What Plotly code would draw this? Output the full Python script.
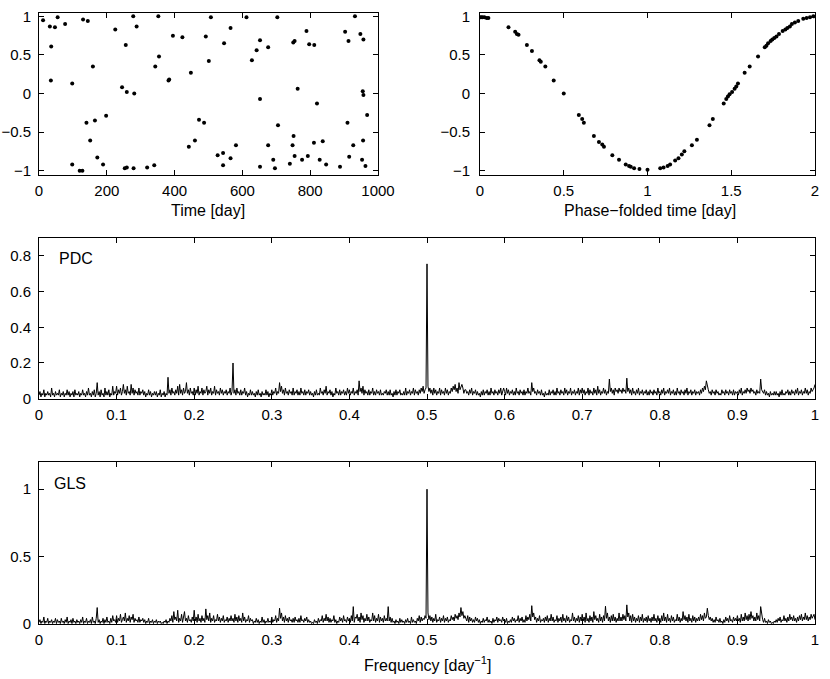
import numpy as np
import plotly.graph_objects as go

# ---- data ----
TIME_DAYS = [12, 32, 47, 55, 77, 36, 35, 98, 130, 144, 225, 278, 288, 256, 159, 245, 259, 281,
             140, 165, 198, 151, 172, 189, 98, 120, 128, 253, 259, 279, 319, 340, 352, 343, 354,
             395, 423, 382, 384, 448, 492, 501, 507, 442, 472, 487, 460,
             612, 703, 932, 565, 546, 642, 652, 676, 628, 750, 754, 789, 797, 812, 903, 913, 948,
             957, 763, 652, 820, 955, 957, 968, 910, 705, 751, 748, 811, 837, 581, 676, 927, 956,
             527, 543, 565, 543, 652, 691, 696, 740, 754, 776, 793, 828, 847, 888, 915, 953, 963]
TIME_FLUX = [0.95, 0.87, 0.86, 0.99, 0.90, 0.61, 0.17, 0.13, 0.96, 0.94, 0.83, 1.0, 0.87, 0.63,
             0.35, 0.08, 0.02, 0.0, -0.38, -0.35, -0.29, -0.61, -0.83, -0.92, -0.92, -1.0, -1.0,
             -0.97, -0.96, -0.97, -0.96, -0.93, 1.0, 0.35, 0.48, 0.75, 0.73, 0.17, 0.18, 0.27,
             0.74, 0.42, 0.99, -0.69, -0.34, -0.38, -0.61,
             0.99, 0.99, 1.0, 0.85, 0.65, 0.56, 0.69, 0.60, 0.43, 0.66, 0.68, 0.81, 0.64, 0.63,
             0.80, 0.68, 0.77, 0.70, 0.06, -0.07, -0.13, 0.03, -0.02, -0.28, -0.38, -0.41, -0.55,
             -0.67, -0.64, -0.62, -0.67, -0.67, -0.67, -0.61, -0.80, -0.77, -0.84, -0.93, -0.95,
             -0.86, -0.97, -0.91, -0.81, -0.86, -0.81, -0.86, -0.92, -0.95, -0.82, -0.86, -0.94]

PHASE = [0.006, 0.014, 0.026, 0.040, 0.050, 0.17, 0.21, 0.22, 0.23, 0.28, 0.31, 0.355, 0.363,
         0.39, 0.44, 0.50, 0.59, 0.61, 0.62, 0.68, 0.71, 0.73, 0.74, 0.79, 0.83, 0.87, 0.89,
         0.90, 0.92, 0.952, 1.0, 1.076, 1.096, 1.12, 1.135, 1.165, 1.185, 1.205, 1.22, 1.265,
         1.295, 1.37, 1.39, 1.455, 1.47, 1.48, 1.49, 1.505, 1.52, 1.53, 1.54, 1.58, 1.61, 1.66,
         1.70, 1.71, 1.72, 1.735, 1.745, 1.757, 1.77, 1.785, 1.807, 1.823, 1.835, 1.85, 1.862,
         1.88, 1.90, 1.93, 1.95, 1.97, 1.99]
PHASE_FLUX = [0.99, 0.99, 0.99, 0.98, 0.98, 0.86, 0.80, 0.77, 0.76, 0.63, 0.55, 0.43, 0.41,
              0.35, 0.17, 0.0, -0.28, -0.33, -0.38, -0.55, -0.63, -0.66, -0.69, -0.80, -0.86,
              -0.92, -0.94, -0.95, -0.97, -0.98, -0.99, -0.97, -0.96, -0.94, -0.92, -0.87, -0.84,
              -0.79, -0.75, -0.67, -0.60, -0.41, -0.33, -0.13, -0.07, -0.04, -0.01, 0.02, 0.06,
              0.09, 0.13, 0.27, 0.35, 0.48, 0.60, 0.62, 0.65, 0.68, 0.70, 0.72, 0.74, 0.77, 0.81,
              0.83, 0.85, 0.87, 0.90, 0.92, 0.94, 0.97, 0.98, 0.99, 1.0]

# periodogram power on an even grid from 0 to 1 day^-1 (one row = 0.025 day^-1)
PDC_POWER = [
    .02, .04, .01, .03, .02, .05, .01, .03, .02, .04, .02, .03, .01, .06, .02, .03, .01, .04, .02, .03,
    .02, .05, .01, .03, .02, .04, .01, .03, .02, .05, .02, .04, .01, .03, .02, .04, .01, .05, .02, .03,
    .02, .04, .01, .03, .02, .05, .02, .03, .01, .04, .02, .06, .02, .03, .01, .04, .02, .05, .01, .03,
    .09, .02, .04, .01, .05, .02, .03, .01, .06, .02, .04, .02, .05, .01, .03, .02, .07, .02, .04, .03,
    .07, .02, .05, .03, .06, .02, .04, .08, .03, .05, .02, .07, .03, .04, .02, .08, .03, .06, .02, .05,
    .03, .04, .02, .06, .02, .04, .03, .05, .02, .04, .01, .03, .02, .05, .02, .04, .01, .03, .02, .04,
    .02, .04, .01, .03, .02, .05, .01, .03, .02, .04, .01, .03, .02, .12, .03, .05, .02, .06, .03, .04,
    .02, .05, .03, .07, .02, .08, .03, .05, .02, .06, .03, .04, .09, .03, .05, .02, .06, .03, .04, .02,
    .06, .02, .05, .03, .07, .02, .04, .03, .06, .02, .05, .03, .04, .07, .02, .05, .03, .06, .02, .04,
    .03, .07, .02, .05, .03, .04, .02, .06, .03, .05, .02, .04, .03, .05, .02, .04, .03, .06, .02, .04,
    .20, .03, .05, .02, .06, .03, .04, .02, .05, .02, .04, .03, .06, .02, .04, .01, .03, .02, .05, .02,
    .04, .02, .03, .01, .04, .02, .05, .02, .03, .01, .04, .02, .03, .02, .05, .02, .04, .01, .03, .02,
    .05, .02, .04, .03, .06, .02, .04, .03, .09, .04, .07, .03, .05, .02, .06, .03, .04, .02, .05, .03,
    .04, .02, .06, .02, .04, .03, .05, .02, .04, .02, .06, .03, .04, .02, .05, .02, .04, .03, .05, .02,
    .04, .02, .03, .01, .04, .02, .05, .02, .03, .02, .06, .03, .04, .02, .05, .03, .07, .02, .04, .03,
    .05, .02, .04, .01, .03, .02, .06, .03, .04, .02, .05, .02, .04, .03, .05, .02, .04, .02, .06, .03,
    .05, .02, .04, .03, .06, .02, .04, .03, .05, .02, .10, .04, .06, .03, .07, .02, .05, .03, .04, .02,
    .05, .02, .04, .03, .06, .02, .04, .02, .05, .03, .04, .02, .05, .02, .03, .02, .04, .03, .05, .02,
    .04, .02, .05, .02, .03, .01, .04, .02, .05, .02, .04, .03, .05, .02, .03, .02, .04, .02, .06, .02,
    .04, .03, .05, .02, .04, .03, .06, .02, .05, .03, .04, .02, .05, .03, .06, .04, .07, .03, .05, .06,
    .755, .07, .04, .06, .03, .05, .02, .06, .03, .05, .02, .04, .03, .06, .02, .05, .03, .04, .02, .06,
    .03, .05, .02, .04, .03, .06, .04, .07, .05, .08, .04, .06, .03, .09, .05, .07, .08, .06, .03, .05,
    .05, .03, .04, .02, .05, .03, .06, .02, .04, .03, .05, .02, .04, .02, .03, .01, .04, .02, .05, .02,
    .04, .03, .05, .02, .04, .02, .06, .03, .04, .02, .05, .03, .04, .02, .05, .03, .06, .02, .04, .06,
    .04, .02, .06, .03, .05, .02, .04, .03, .05, .02, .04, .02, .06, .03, .04, .02, .05, .03, .04, .02,
    .05, .02, .04, .03, .06, .03, .04, .02, .09, .04, .06, .03, .04, .02, .05, .03, .04, .02, .05, .02,
    .03, .01, .04, .02, .03, .02, .05, .02, .04, .03, .05, .02, .04, .02, .06, .03, .04, .02, .05, .03,
    .04, .02, .06, .03, .05, .02, .04, .03, .06, .02, .04, .03, .05, .02, .04, .03, .06, .02, .05, .03,
    .06, .03, .05, .02, .04, .03, .06, .02, .05, .03, .04, .02, .06, .03, .05, .02, .07, .03, .05, .02,
    .04, .03, .06, .03, .05, .02, .04, .03, .11, .04, .06, .03, .05, .02, .06, .04, .05, .03, .06, .04,
    .05, .03, .06, .04, .05, .03, .115, .04, .06, .03, .05, .02, .06, .03, .04, .02, .05, .03, .06, .02,
    .04, .03, .05, .02, .04, .03, .05, .02, .04, .02, .05, .03, .04, .02, .05, .03, .04, .02, .06, .03,
    .04, .02, .05, .03, .06, .02, .04, .03, .05, .03, .06, .02, .04, .03, .05, .02, .04, .02, .06, .03,
    .04, .02, .05, .03, .04, .02, .05, .03, .06, .02, .04, .03, .05, .02, .04, .03, .05, .02, .04, .03,
    .04, .02, .05, .03, .06, .04, .07, .05, .10, .06, .05, .03, .04, .02, .05, .03, .04, .02, .05, .03,
    .04, .02, .03, .02, .05, .03, .04, .02, .05, .03, .04, .02, .05, .03, .04, .02, .05, .02, .04, .03,
    .04, .02, .05, .03, .06, .02, .04, .03, .05, .03, .06, .04, .05, .03, .06, .04, .05, .03, .04, .02,
    .05, .03, .04, .03, .11, .05, .04, .03, .05, .02, .04, .02, .03, .01, .04, .02, .03, .02, .04, .02,
    .04, .02, .03, .01, .04, .02, .05, .02, .03, .02, .04, .03, .05, .02, .04, .02, .05, .03, .04, .02,
    .05, .03, .06, .02, .04, .03, .05, .02, .04, .03, .06, .03, .05, .02, .04, .03, .06, .04, .05, .06,
    .08,
]

GLS_POWER = [
    .01, .03, .00, .02, .01, .05, .00, .02, .01, .04, .00, .02, .01, .03, .00, .02, .01, .04, .00, .03,
    .01, .02, .00, .04, .01, .02, .00, .03, .01, .05, .00, .02, .01, .03, .00, .04, .01, .02, .00, .03,
    .01, .02, .00, .03, .01, .05, .00, .02, .01, .04, .00, .02, .01, .03, .00, .05, .01, .02, .00, .04,
    .12, .01, .03, .00, .02, .01, .04, .00, .03, .01, .05, .01, .02, .00, .04, .01, .06, .02, .03, .01,
    .06, .01, .04, .02, .07, .01, .03, .05, .02, .08, .01, .04, .02, .06, .01, .05, .03, .07, .01, .04,
    .02, .03, .01, .05, .01, .03, .02, .04, .01, .03, .00, .02, .01, .04, .00, .02, .01, .03, .00, .02,
    .01, .03, .00, .02, .01, .02, .00, .01, .00, .02, .01, .03, .00, .02, .01, .04, .02, .06, .01, .09,
    .03, .05, .02, .10, .01, .04, .02, .07, .01, .05, .09, .02, .04, .01, .06, .02, .03, .01, .05, .02,
    .10, .02, .05, .01, .07, .02, .04, .01, .06, .02, .04, .01, .11, .03, .06, .02, .08, .01, .04, .02,
    .06, .01, .03, .02, .07, .02, .05, .01, .04, .02, .06, .01, .03, .02, .05, .01, .04, .02, .06, .02,
    .04, .01, .07, .02, .05, .01, .06, .02, .04, .01, .08, .02, .05, .01, .03, .02, .06, .01, .04, .02,
    .03, .00, .02, .01, .04, .01, .03, .00, .02, .01, .05, .01, .03, .00, .02, .01, .04, .01, .02, .01,
    .05, .01, .03, .02, .06, .01, .04, .02, .115, .04, .08, .02, .05, .01, .06, .02, .04, .01, .05, .02,
    .03, .01, .04, .01, .05, .02, .03, .01, .04, .01, .06, .02, .03, .01, .04, .02, .05, .01, .03, .01,
    .02, .00, .01, .00, .03, .01, .02, .00, .04, .01, .03, .02, .06, .01, .04, .02, .07, .02, .05, .01,
    .04, .01, .03, .02, .06, .01, .03, .00, .02, .01, .05, .02, .04, .01, .06, .02, .03, .01, .05, .02,
    .04, .01, .06, .02, .127, .01, .05, .04, .07, .02, .05, .01, .08, .03, .06, .01, .04, .02, .07, .02,
    .05, .01, .03, .02, .08, .02, .06, .01, .04, .02, .07, .01, .05, .02, .04, .01, .06, .02, .04, .02,
    .127, .02, .05, .01, .04, .01, .02, .00, .03, .01, .02, .00, .04, .01, .03, .01, .02, .00, .03, .01,
    .04, .01, .02, .00, .05, .01, .03, .01, .02, .00, .04, .02, .06, .01, .05, .02, .04, .03, .06, .04,
    1.00, .08, .03, .06, .02, .05, .01, .04, .02, .07, .01, .03, .02, .05, .01, .04, .02, .06, .01, .04,
    .02, .05, .01, .03, .02, .06, .03, .05, .02, .07, .04, .06, .03, .08, .05, .12, .06, .09, .04, .06,
    .04, .02, .06, .01, .05, .02, .04, .01, .03, .01, .05, .02, .04, .01, .03, .00, .02, .01, .04, .01,
    .03, .02, .05, .01, .03, .01, .02, .00, .04, .01, .03, .02, .05, .01, .04, .02, .03, .01, .05, .02,
    .03, .01, .04, .00, .02, .01, .03, .01, .05, .02, .04, .01, .03, .02, .06, .01, .04, .02, .05, .01,
    .03, .01, .06, .02, .05, .03, .07, .02, .134, .05, .08, .03, .05, .01, .04, .02, .06, .01, .03, .02,
    .04, .01, .05, .02, .06, .01, .04, .02, .07, .02, .05, .01, .03, .02, .06, .01, .04, .02, .05, .01,
    .07, .02, .04, .01, .06, .02, .05, .01, .03, .02, .08, .02, .05, .01, .04, .02, .06, .01, .05, .02,
    .07, .02, .05, .01, .08, .02, .04, .01, .06, .02, .05, .01, .09, .03, .06, .02, .04, .01, .07, .02,
    .05, .01, .06, .02, .13, .04, .08, .02, .05, .01, .06, .02, .07, .02, .05, .01, .04, .02, .08, .02,
    .05, .02, .07, .03, .06, .02, .14, .05, .08, .02, .06, .01, .07, .02, .05, .01, .04, .02, .06, .01,
    .05, .02, .07, .01, .04, .02, .05, .01, .06, .02, .04, .01, .05, .02, .07, .02, .04, .01, .06, .02,
    .04, .01, .06, .02, .08, .02, .05, .01, .07, .02, .04, .01, .06, .02, .05, .01, .03, .02, .07, .02,
    .05, .01, .04, .02, .09, .03, .06, .02, .05, .01, .07, .02, .04, .01, .06, .02, .05, .01, .04, .02,
    .05, .02, .07, .03, .06, .02, .08, .04, .05, .115, .06, .03, .05, .02, .04, .01, .03, .01, .05, .02,
    .03, .01, .04, .01, .02, .00, .03, .01, .05, .02, .04, .01, .06, .02, .03, .01, .05, .02, .04, .02,
    .06, .02, .04, .01, .07, .02, .05, .02, .08, .03, .06, .02, .07, .03, .09, .04, .06, .02, .05, .02,
    .08, .03, .06, .02, .127, .05, .03, .01, .04, .01, .02, .00, .03, .01, .02, .00, .01, .00, .02, .01,
    .03, .01, .04, .02, .05, .01, .03, .02, .06, .02, .04, .01, .05, .02, .07, .03, .05, .02, .06, .02,
    .04, .01, .05, .02, .06, .03, .07, .02, .05, .03, .08, .03, .06, .02, .05, .03, .07, .04, .06, .07,
    .03,
]

FREQ_PDC = np.linspace(0, 1, len(PDC_POWER))
FREQ_GLS = np.linspace(0, 1, len(GLS_POWER))

W, H = 830, 679
FONT = "Liberation Sans, Arial, Helvetica, sans-serif"
TICK_SIZE = 15
LABEL_SIZE = 16


def px_x(a, b):
    return [a / W, b / W]


def px_y(top, bottom):
    return [1 - bottom / H, 1 - top / H]


def axis_style(**kw):
    base = dict(showline=True, linecolor="black", linewidth=1, mirror="ticks",
                ticks="inside", ticklen=5, tickcolor="black", tickwidth=1,
                showgrid=False, zeroline=False, automargin=False,
                tickfont=dict(family=FONT, size=TICK_SIZE, color="black"))
    base.update(kw)
    return base


def label(text, x, y, size=LABEL_SIZE, xanchor="center"):
    return dict(text=text, x=x / W, y=1 - y / H, xref="paper", yref="paper",
                xanchor=xanchor, yanchor="middle", showarrow=False,
                font=dict(family=FONT, size=size, color="black"))


fig = go.Figure()

fig.add_trace(go.Scatter(x=TIME_DAYS, y=TIME_FLUX, mode="markers",
                         marker=dict(color="black", size=4), xaxis="x", yaxis="y"))
fig.add_trace(go.Scatter(x=PHASE, y=PHASE_FLUX, mode="markers",
                         marker=dict(color="black", size=4), xaxis="x2", yaxis="y2"))
fig.add_trace(go.Scatter(x=FREQ_PDC, y=PDC_POWER, mode="lines",
                         line=dict(color="black", width=1), xaxis="x3", yaxis="y3"))
fig.add_trace(go.Scatter(x=FREQ_GLS, y=GLS_POWER, mode="lines",
                         line=dict(color="black", width=1), xaxis="x4", yaxis="y4"))

fig.update_layout(
    width=W, height=H, showlegend=False,
    paper_bgcolor="white", plot_bgcolor="white",
    margin=dict(l=0, r=0, t=0, b=0),
    font=dict(family=FONT, size=TICK_SIZE, color="black"),
    xaxis=axis_style(domain=px_x(39, 378), range=[0, 1000], dtick=200, anchor="y",
                     ticklabelstandoff=2),
    yaxis=axis_style(domain=px_y(12.5, 174.5), range=[-1.05, 1.05], dtick=0.5, anchor="x",
                     ticklabelstandoff=4),
    xaxis2=axis_style(domain=px_x(480, 815), range=[0, 2], dtick=0.5, anchor="y2",
                      ticklabelstandoff=2),
    yaxis2=axis_style(domain=px_y(12.5, 174.5), range=[-1.05, 1.05], dtick=0.5, anchor="x2",
                      ticklabelstandoff=6),
    xaxis3=axis_style(domain=px_x(39, 815), range=[0, 1], dtick=0.1, anchor="y3",
                      ticklabelstandoff=2),
    yaxis3=axis_style(domain=px_y(238, 398.7), range=[0, 0.9], dtick=0.2, anchor="x3",
                      ticklabelstandoff=4),
    xaxis4=axis_style(domain=px_x(39, 815), range=[0, 1], dtick=0.1, anchor="y4",
                      ticklabelstandoff=2),
    yaxis4=axis_style(domain=px_y(462.3, 623.7), range=[0, 1.2], dtick=0.5, anchor="x4",
                      ticklabelstandoff=4),
    annotations=[
        label("Time [day]", 208, 210),
        label("Phase\u2212folded time [day]", 650, 210),
        label("Frequency [day<sup>\u22121</sup>]", 428, 664),
        label("PDC", 57, 258, xanchor="left"),
        label("GLS", 52, 483, xanchor="left"),
    ],
)

# page body has a default 8px margin; drop it so the figure sits at 0,0
fig.write_html("out.html", config={"displayModeBar": False},
               post_script="document.body.style.margin='0';")
